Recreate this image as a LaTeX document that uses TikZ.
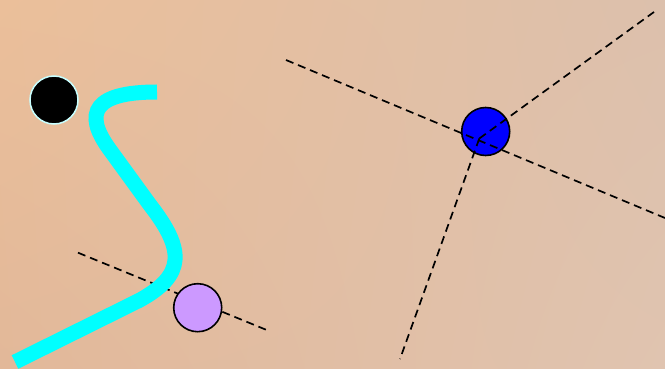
\documentclass[tikz,border=0pt]{standalone}
\usetikzlibrary{calc,shadings}
\definecolor{bgtl}{RGB}{235,191,154}
\definecolor{bgtr}{RGB}{220,192,172}
\definecolor{bgbl}{RGB}{226,184,153}
\definecolor{bgbr}{RGB}{224,196,176}
\definecolor{lav}{RGB}{204,153,255}
\definecolor{lcyan}{RGB}{200,255,255}
\definecolor{aqua}{RGB}{0,255,255}
\tikzset{
  dot/.style={circle, minimum size=48pt, inner sep=0pt, draw=black, line width=1.6pt},
  dline/.style={dashed, dash pattern=on 8pt off 5pt, line width=1.7pt, black},
  rope/.style={aqua, line width=15pt}
}
\begin{document}
\begin{tikzpicture}[x=1pt,y=-1pt]
\useasboundingbox (0,0) rectangle (665,369);
\shade[upper left=bgtl, upper right=bgtr, lower left=bgbl, lower right=bgbr] (0,0) rectangle (665,369);
% left group
\coordinate (l1) at (78,252.7);
\coordinate (l2) at (266.7,330);
\draw[dline] (l1) -- (l2);
\draw[rope] (157,92) .. controls (95,92) and (82,112) .. (110,150) -- (150,205) .. controls (185,250) and (185,275) .. (140,300) -- (15,362);
\node[dot, fill=lav] (lav) at (197.7,307.7) {};
\node[dot, fill=black, draw=lcyan, line width=1.5pt] (blk) at (54,100) {};
% right group
\node[dot, fill=blue] (bl) at (485.7,131.5) {};
\coordinate (c) at (479.3,138.5);
\coordinate (r1) at (286,60);
\coordinate (r2) at (665,218);
\coordinate (r3) at (654,12);
\coordinate (r4) at (400,359);
\draw[dline] (r1) -- (r2);
\draw[dline] (c) -- (r3);
\draw[dline] (c) -- (r4);
\end{tikzpicture}
\end{document}
